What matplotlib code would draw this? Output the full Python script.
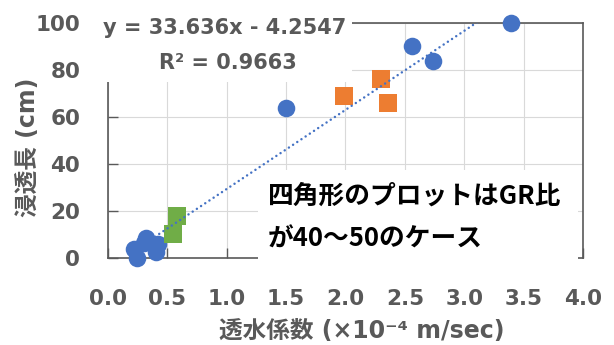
import matplotlib.pyplot as plt
import matplotlib.patches as mpatches
import numpy as np

# data
blue_x = [0.22, 0.24, 0.30, 0.32, 0.40, 0.42, 1.50, 2.56, 2.74, 3.39]
blue_y = [4.0, 0.0, 6.5, 8.5, 2.5, 6.0, 64.0, 90.0, 84.0, 100.0]
orange_x = [1.99, 2.30, 2.36]
orange_y = [69.0, 76.0, 66.0]
green_x = [0.55, 0.58]
green_y = [10.0, 18.0]

# linear trendline shown on the chart
slope = 33.636
intercept = -4.2547
r2 = 0.9663

x_ticks = [0.0, 0.5, 1.0, 1.5, 2.0, 2.5, 3.0, 3.5, 4.0]
y_ticks = [0, 20, 40, 60, 80, 100]

gray = "#595959"
latin = ["DejaVu Sans", "Noto Sans CJK JP"]
cjk = ["Noto Sans CJK JP", "DejaVu Sans"]

fig = plt.figure(figsize=(6.14, 3.45), dpi=100)
ax = fig.add_axes([0.1759, 0.2522, 0.7736, 0.6812])

ax.set_xlim(0, 4)
ax.set_ylim(0, 100)
ax.set_axisbelow(True)
ax.grid(True, color="#D9D9D9", linewidth=0.8)

ax.scatter(blue_x, blue_y, s=160, color="#4472C4", marker="o",
           linewidths=0, zorder=3, clip_on=False)
ax.scatter(orange_x, orange_y, s=160, color="#ED7D31", marker="s",
           linewidths=0, zorder=3, clip_on=False)
ax.scatter(green_x, green_y, s=160, color="#70AD47", marker="s",
           linewidths=0, zorder=3, clip_on=False)

# dotted trendline over the blue series range
xt = np.array([min(blue_x), max(blue_x)])
ax.plot(xt, slope * xt + intercept, color="#4472C4", linewidth=1.8,
        linestyle=(0, (0.01, 2.0)), dash_capstyle="round", zorder=4)

ax.set_xticks(x_ticks)
ax.set_xticklabels([f"{v:.1f}" for v in x_ticks])
ax.set_yticks(y_ticks)
ax.tick_params(axis="both", direction="in", length=7, width=1, color=gray,
               labelcolor=gray, labelsize=15.5)
ax.tick_params(axis="x", pad=22)
ax.tick_params(axis="y", pad=20)
for lab in ax.get_xticklabels() + ax.get_yticklabels():
    lab.set_fontweight("bold")
    lab.set_family(latin)

for sp in ax.spines.values():
    sp.set_color(gray)
    sp.set_linewidth(1.2)

ax.set_xlabel("透水係数 (×10⁻⁴ m/sec)", fontsize=17, fontweight="bold",
              color=gray, family=latin, va="center")
ax.xaxis.set_label_coords(0.535, -0.311)
ax.set_ylabel("浸透長 (cm)", fontsize=17, fontweight="bold",
              color=gray, family=latin, va="center")
ax.yaxis.set_label_coords(-0.168, 0.47)

# white boxes behind the labels inside the plot
ax.add_patch(mpatches.Rectangle((-0.017, 0.749), 0.531, 0.40, transform=ax.transAxes,
                                facecolor="white", edgecolor="none", zorder=5, clip_on=False))
ax.add_patch(mpatches.Rectangle((0.316, -0.017), 0.673, 0.391, transform=ax.transAxes,
                                facecolor="white", edgecolor="none", zorder=5, clip_on=False))

fig.text(0.3664, 0.9188, f"y = {slope}x - {abs(intercept)}", fontsize=15,
         fontweight="bold", color=gray, family=latin, ha="center", va="center", zorder=6)
fig.text(0.3713, 0.8174, f"R² = {r2}", fontsize=15,
         fontweight="bold", color=gray, family=latin, ha="center", va="center", zorder=6)

fig.text(0.4365, 0.4319, "四角形のプロットはGR比", fontsize=18.5, fontweight="bold",
         color="black", family=cjk, ha="left", va="center", zorder=6)
fig.text(0.4365, 0.307, "が40～50のケース", fontsize=18.5, fontweight="bold",
         color="black", family=cjk, ha="left", va="center", zorder=6)

fig.savefig("out.png", dpi=100)
